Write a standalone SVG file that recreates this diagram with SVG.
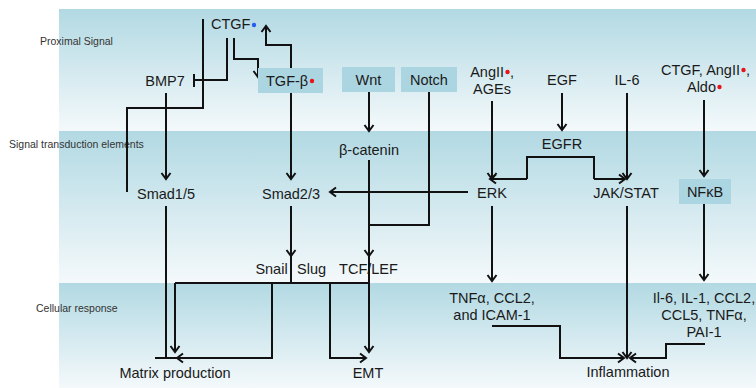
<svg xmlns="http://www.w3.org/2000/svg" width="756" height="388" viewBox="0 0 756 388">
<style>
.t{font-family:"Liberation Sans",Arial,sans-serif;font-size:14.5px;fill:#1a1a1a;text-anchor:middle}
.ts{text-anchor:start}
.side{font-family:"Liberation Sans",Arial,sans-serif;font-size:10.5px;fill:#333}
.c{fill:none;stroke:#111;stroke-width:2}
.a{marker-end:url(#arr)}
.box{fill:#abd5e1}
</style>
<defs>
<linearGradient id="band" x1="0" y1="0" x2="0" y2="1">
<stop offset="0" stop-color="#b2d9e3"/>
<stop offset="1" stop-color="#f4f9fb"/>
</linearGradient>
<marker id="arr" viewBox="-8 -6 10 12" refX="0" refY="0" markerWidth="10" markerHeight="12" markerUnits="userSpaceOnUse" orient="auto" overflow="visible">
<path d="M-6,-4.5 L0,0 L-6,4.5" fill="none" stroke="#111" stroke-width="2"/>
</marker>
</defs>
<rect width="756" height="388" fill="#fff"/>
<g id="bands">
<rect x="59" y="9" width="697" height="122" fill="url(#band)"/>
<rect x="59" y="131" width="697" height="152" fill="url(#band)"/>
<rect x="59" y="283" width="697" height="105" fill="url(#band)"/>
</g>
<g id="side-labels">
<text class="side" x="40" y="45">Proximal Signal</text>
<text class="side" x="9" y="148">Signal transduction elements</text>
<text class="side" x="36" y="312">Cellular response</text>
</g>
<g id="connectors">
<path class="c" d="M203,19 V108 H127 V192"/>
<path class="c" d="M227,38 V80 H194"/>
<path class="c" d="M194,74 V87" stroke-width="2.5"/>
<path class="c a" d="M234,38 V59 H258 V77"/>
<path class="c a" d="M291,68 V45 H266 V26"/>
<path class="c a" d="M166,93 V179"/>
<path class="c a" d="M291,93 V179"/>
<path class="c a" d="M369,92 V131"/>
<path class="c a" d="M369,160 V256"/>
<path class="c a" d="M369,256 V352"/>
<path class="c" d="M429,92 V225 H369"/>
<path class="c a" d="M468,192 H330"/>
<path class="c a" d="M562,93 V130"/>
<path class="c" d="M527,179 V157 H594 V179"/>
<path class="c a" d="M527,179 H490"/>
<path class="c a" d="M594,179 H625"/>
<path class="c a" d="M492,101 V179"/>
<path class="c a" d="M627,93 V179"/>
<path class="c a" d="M704,100 V176"/>
<path class="c a" d="M492,206 V281"/>
<path class="c a" d="M627,206 V358"/>
<path class="c a" d="M704,204 V280"/>
<path class="c a" d="M492,326 H560 V358 H624"/>
<path class="c a" d="M705,344 H666 V358 H630"/>
<path class="c a" d="M291,206 V256"/>
<path class="c" d="M291,256 V283"/>
<path class="c" d="M175,283 H369"/>
<path class="c a" d="M175,283 V352"/>
<path class="c a" d="M272,283 V358 H177"/>
<path class="c a" d="M330,283 V358 H366"/>
<path class="c" d="M166,206 V358"/>
<path class="c" d="M155,358 H177"/>
</g>
<g id="ctgf"><text class="t ts" x="211" y="29">CTGF</text><circle cx="254" cy="25" r="2.2" fill="#2a5cf0"/></g>
<g id="bmp7"><text class="t" x="165" y="86">BMP7</text></g>
<g id="tgfb"><rect class="box" x="258" y="68" width="65" height="25"/><text class="t ts" x="266" y="86">TGF-β</text><circle cx="312" cy="81" r="2.2" fill="#e8141a"/></g>
<g id="wnt"><rect class="box" x="342" y="67" width="53" height="25"/><text class="t" x="368.5" y="85">Wnt</text></g>
<g id="notch"><rect class="box" x="401" y="67" width="56" height="25"/><text class="t" x="429" y="85">Notch</text></g>
<g id="angii-ages"><text class="t" style="text-anchor:end" x="504" y="77">AngII</text><circle cx="507.5" cy="72" r="2.2" fill="#e8141a"/><text class="t ts" x="510" y="77">,</text><text class="t" x="492" y="94">AGEs</text></g>
<g id="egf"><text class="t" x="562" y="85">EGF</text></g>
<g id="il6"><text class="t" x="627" y="85">IL-6</text></g>
<g id="ctgf-angii-aldo"><text class="t" style="text-anchor:end" x="740" y="75">CTGF, AngII</text><circle cx="743.5" cy="70" r="2.2" fill="#e8141a"/><text class="t ts" x="746" y="75">,</text><text class="t" style="text-anchor:end" x="716" y="92">Aldo</text><circle cx="719.5" cy="87" r="2.2" fill="#e8141a"/></g>
<g id="bcatenin"><text class="t" x="369" y="155">β-catenin</text></g>
<g id="egfr"><text class="t" x="562" y="149">EGFR</text></g>
<g id="smad15"><text class="t" x="166" y="199">Smad1/5</text></g>
<g id="smad23"><text class="t" x="291" y="199">Smad2/3</text></g>
<g id="erk"><text class="t" x="492" y="198">ERK</text></g>
<g id="jakstat"><text class="t" x="626" y="198">JAK/STAT</text></g>
<g id="nfkb"><rect class="box" x="679" y="179" width="52" height="25"/><text class="t" x="705" y="197">NFκB</text></g>
<g id="snail"><text class="t" x="271.5" y="274">Snail</text></g>
<g id="slug"><text class="t" x="311.5" y="274">Slug</text></g>
<g id="tcflef"><text class="t" x="368.5" y="274">TCF/LEF</text></g>
<g id="tnfa"><text class="t" x="492" y="303">TNFα, CCL2,</text><text class="t" x="492" y="320">and ICAM-1</text></g>
<g id="il6-list"><text class="t" x="704" y="303">Il-6, IL-1, CCL2,</text><text class="t" x="704" y="320">CCL5, TNFα,</text><text class="t" x="704" y="337">PAI-1</text></g>
<g id="matrix"><text class="t" x="175" y="378">Matrix production</text></g>
<g id="emt"><text class="t" x="368" y="378">EMT</text></g>
<g id="inflammation"><text class="t" x="628" y="377">Inflammation</text></g>
</svg>
